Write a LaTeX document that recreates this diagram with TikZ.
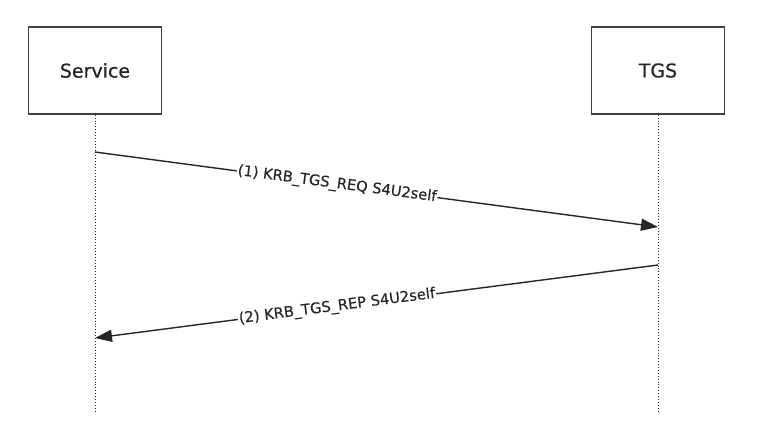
\documentclass[tikz,border=0pt]{standalone}
\usepackage{fontspec}
\setmainfont{DejaVu Sans}
\newfontfamily\boxfont[FakeBold=0.6]{DejaVu Sans}
\newfontfamily\labfont[FakeBold=0.3]{DejaVu Sans}
\usetikzlibrary{arrows.meta}
\definecolor{ink}{HTML}{262626}
\definecolor{frame}{HTML}{404040}
\tikzset{
  actor/.style={draw=frame, line width=1.5pt, minimum width=133pt, minimum height=87pt, inner sep=0pt, font=\boxfont\fontsize{19}{22}\selectfont, text=ink},
  lifeline/.style={draw=ink, line width=0.9pt, dotted},
  msg/.style={draw=ink, line width=1.4pt, -{Triangle[length=17pt,width=12pt]}},
  msglabel/.style={sloped, fill=white, inner sep=1pt, font=\labfont\fontsize{14.7}{17}\selectfont, text=ink}
}
\begin{document}
\begin{tikzpicture}[x=1pt,y=-1pt]
\useasboundingbox (0,0) rectangle (784,439);
\node[actor] (svc) at (95,70.5) {Service};
\node[actor] (tgs) at (658,70.5) {TGS};
\coordinate (svcend) at (95,413);
\coordinate (tgsend) at (658,413);
\draw[lifeline] (svc.south) -- (svcend);
\draw[lifeline] (tgs.south) -- (tgsend);
\coordinate (a1s) at (95,152);
\coordinate (a1e) at (658,227);
\coordinate (a2s) at (658,265);
\coordinate (a2e) at (95,338);
\draw[msg] (a1s) -- node[msglabel, pos=0.43] {(1) KRB\_TGS\_REQ S4U2self} (a1e);
\draw[msg] (a2s) -- node[msglabel, pos=0.57] {(2) KRB\_TGS\_REP S4U2self} (a2e);
\end{tikzpicture}
\end{document}
